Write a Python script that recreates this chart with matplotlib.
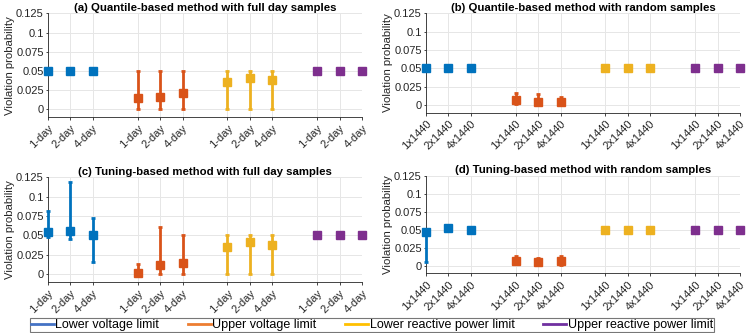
import matplotlib
matplotlib.use("Agg")
import matplotlib.pyplot as plt
from matplotlib.lines import Line2D
import numpy as np

# ---------------- data ----------------
series_names = ["Lower voltage limit", "Upper voltage limit",
                "Lower reactive power limit", "Upper reactive power limit"]
day_labels = ["1-day", "2-day", "4-day"]
rand_labels = ["1x1440", "2x1440", "4x1440"]

# (a) quantile-based, full day samples: value, lower, upper
a_val = [[0.05, 0.05, 0.05], [0.0147, 0.0164, 0.0211], [0.0356, 0.041, 0.0384], [0.05, 0.05, 0.05]]
a_lo = [[0.05, 0.05, 0.05], [0.0, 0.0, 0.0], [0.0, 0.0, 0.0], [0.05, 0.05, 0.05]]
a_hi = [[0.05, 0.05, 0.05], [0.05, 0.05, 0.05], [0.05, 0.05, 0.05], [0.05, 0.05, 0.05]]

# (b) quantile-based, random samples
b_val = [[0.05, 0.05, 0.05], [0.0069, 0.0048, 0.0048], [0.05, 0.05, 0.05], [0.05, 0.05, 0.05]]
b_lo = [[0.05, 0.05, 0.05], [0.001, 0.0005, 0.001], [0.05, 0.05, 0.05], [0.05, 0.05, 0.05]]
b_hi = [[0.05, 0.05, 0.05], [0.017, 0.0148, 0.0115], [0.05, 0.05, 0.05], [0.05, 0.05, 0.05]]

# (c) tuning-based, full day samples
c_val = [[0.0547, 0.056, 0.05], [0.0017, 0.0119, 0.0144], [0.035, 0.0407, 0.0377], [0.05, 0.05, 0.05]]
c_lo = [[0.048, 0.045, 0.016], [0.0, 0.0, 0.0], [0.0, 0.0, 0.0], [0.05, 0.05, 0.05]]
c_hi = [[0.081, 0.119, 0.073], [0.013, 0.0606, 0.05], [0.05, 0.05, 0.05], [0.05, 0.05, 0.05]]

# (d) tuning-based, random samples
d_val = [[0.0468, 0.052, 0.05], [0.0075, 0.0055, 0.0065], [0.05, 0.05, 0.05], [0.05, 0.05, 0.05]]
d_lo = [[0.0055, 0.049, 0.05], [0.004, 0.001, 0.0015], [0.05, 0.05, 0.05], [0.05, 0.05, 0.05]]
d_hi = [[0.05, 0.056, 0.05], [0.0139, 0.0115, 0.0135], [0.05, 0.05, 0.05], [0.05, 0.05, 0.05]]

titles = ["(a) Quantile-based method with full day samples",
          "(b) Quantile-based method with random samples",
          "(c) Tuning-based method with full day samples",
          "(d) Tuning-based method with random samples"]
yticks = [0, 0.025, 0.05, 0.075, 0.1, 0.125]
ytick_labels = ["0", "0.025", "0.05", "0.075", "0.1", "0.125"]

# ---------------- style ----------------
colors = ["#0072BD", "#D95319", "#EDB120", "#7E2F8E"]
legend_colors = ["#4472C4", "#ED7D31", "#FFC000", "#7030A0"]
textc = "#262626"
plt.rcParams["font.family"] = ["Liberation Sans", "DejaVu Sans"]

fig = plt.figure(figsize=(7.47, 3.33), dpi=100)
W, H = 747, 333
rects = [(48, 362, 13.3, 117), (426, 740, 13.3, 112.5),
         (48, 362, 177.3, 281.7), (426, 740, 175.7, 273.2)]

panels = [(a_val, a_lo, a_hi, day_labels), (b_val, b_lo, b_hi, rand_labels),
          (c_val, c_lo, c_hi, day_labels), (d_val, d_lo, d_hi, rand_labels)]

for k, ((l, r, t, b), (val, lo, hi, labs)) in enumerate(zip(rects, panels)):
    ax = fig.add_axes([l / W, 1 - b / H, (r - l) / W, (b - t) / H])
    xt = []
    xl = []
    for s in range(4):
        xs = np.array([1, 2, 3]) + 4 * s
        v = np.array(val[s]); lo_ = np.array(lo[s]); hi_ = np.array(hi[s])
        ax.errorbar(xs, v, yerr=[v - lo_, hi_ - v], fmt="s", color=colors[s],
                    ms=5.5, mec=colors[s], elinewidth=2.0, capsize=1.6,
                    capthick=2.0, zorder=3, clip_on=False)
        xt.extend(xs.tolist())
        xl.extend(labs)
    ax.set_xlim(1, 15)
    ax.set_ylim(-0.01, 0.125)
    ax.set_xticks(xt)
    ax.set_xticklabels(xl, rotation=45, ha="right", rotation_mode="anchor",
                       fontsize=8, color=textc)
    ax.set_yticks(yticks)
    ax.set_yticklabels(ytick_labels, fontsize=8, color=textc)
    ax.grid(True, color="#e6e6e6", linewidth=0.7)
    ax.set_axisbelow(True)
    for sp in ["top", "right"]:
        ax.spines[sp].set_visible(False)
    for sp in ["left", "bottom"]:
        ax.spines[sp].set_color("#262626")
        ax.spines[sp].set_linewidth(0.6)
    ax.tick_params(axis="both", direction="out", length=2.5, width=0.6,
                   colors="#262626", pad=2)
    ax.tick_params(axis="y", length=1.5, pad=1.5)
    ax.set_ylabel("Violation probability", fontsize=8.2, color=textc, labelpad=1.0)
    ax.set_title(titles[k], fontsize=8.2, fontweight="bold", color="black", pad=2)

handles = [Line2D([0], [0], color=c, lw=2) for c in legend_colors]
leg = fig.legend(handles, series_names, loc="center",
                 bbox_to_anchor=(372 / W, 1 - 325 / H), ncol=4, fontsize=9,
                 frameon=True, fancybox=False, edgecolor="#555555",
                 handlelength=1.8, handletextpad=0.15, columnspacing=2.3,
                 borderpad=0.05, borderaxespad=0)
leg.get_frame().set_linewidth(0.8)

fig.savefig("out.png", dpi=100)
